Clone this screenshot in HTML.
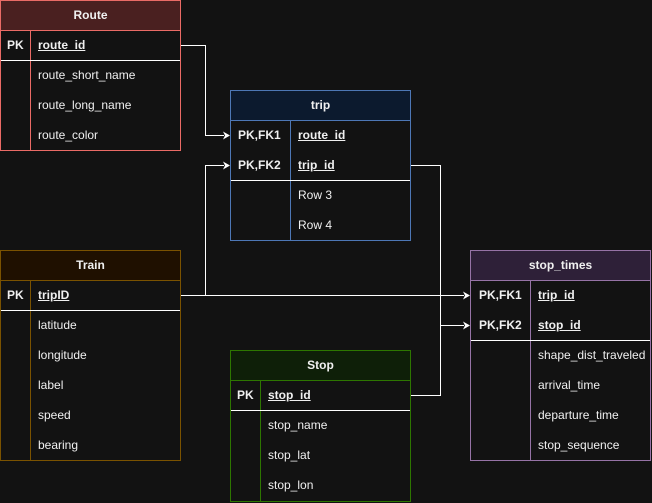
<!DOCTYPE html><html><head><style>
body{margin:0;background:#121212;width:652px;height:503px;overflow:hidden;font-family:"Liberation Sans",sans-serif;color:#f0f0f0;font-size:12px;position:relative}
.t{position:absolute;box-sizing:border-box;border:1px solid}
.h{position:absolute;left:0;right:0;top:0;height:29px;line-height:29px;text-align:center;font-weight:bold;border-bottom:1px solid}
.c{position:absolute;top:29px;bottom:0;border-left:1px solid}
.r{position:absolute;height:30px;line-height:30px;white-space:nowrap}
.k{font-weight:bold}
.u{font-weight:bold;text-decoration:underline}
.d{position:absolute;left:0;right:0;border-top:1px solid #fff}
</style></head><body>
<svg width="652" height="503" style="position:absolute;left:0;top:0">
<g stroke="#fff" fill="none" stroke-width="1">
<path d="M180.5 45.5H205.5V135.5H224"/>
<path d="M180 295.5H464"/>
<path d="M205.5 295.5V165.5H224"/>
<path d="M410 165.5H440.5V395.5H410"/>
<path d="M440.5 325.5H464"/>
</g>
<g fill="#fff">
<path d="M230 135.5l-7-4 2 4-2 4z"/><path d="M230 165.5l-7-4 2 4-2 4z"/>
<path d="M470 295.5l-7-4 2 4-2 4z"/><path d="M470 325.5l-7-4 2 4-2 4z"/>
</g></svg>

<div class="t" style="left:0;top:0;width:181px;height:151px;border-color:#ea6b66">
<div class="h" style="background:#4a2020;border-color:#ea6b66">Route</div>
<div class="c" style="left:29px;border-color:#ea6b66"></div>
<div class="r k" style="left:6px;top:29px">PK</div><div class="r u" style="left:37px;top:29px">route_id</div>
<div class="d" style="top:59px"></div>
<div class="r" style="left:37px;top:59px">route_short_name</div>
<div class="r" style="left:37px;top:89px">route_long_name</div>
<div class="r" style="left:37px;top:119px">route_color</div>
</div>

<div class="t" style="left:230px;top:90px;width:181px;height:151px;border-color:#4d77b5">
<div class="h" style="background:#0c1a2e;border-color:#4d77b5">trip</div>
<div class="c" style="left:59px;border-color:#4d77b5"></div>
<div class="r k" style="left:7px;top:29px">PK,FK1</div><div class="r u" style="left:67px;top:29px">route_id</div>
<div class="r k" style="left:7px;top:59px">PK,FK2</div><div class="r u" style="left:67px;top:59px">trip_id</div>
<div class="d" style="top:89px"></div>
<div class="r" style="left:67px;top:89px">Row 3</div>
<div class="r" style="left:67px;top:119px">Row 4</div>
</div>

<div class="t" style="left:0;top:250px;width:181px;height:211px;border-color:#7a5200">
<div class="h" style="background:#1f1000;border-color:#7a5200">Train</div>
<div class="c" style="left:29px;border-color:#7a5200"></div>
<div class="r k" style="left:6px;top:29px">PK</div><div class="r u" style="left:37px;top:29px">tripID</div>
<div class="d" style="top:59px"></div>
<div class="r" style="left:37px;top:59px">latitude</div>
<div class="r" style="left:37px;top:89px">longitude</div>
<div class="r" style="left:37px;top:119px">label</div>
<div class="r" style="left:37px;top:149px">speed</div>
<div class="r" style="left:37px;top:179px">bearing</div>
</div>

<div class="t" style="left:230px;top:350px;width:181px;height:152px;border-color:#2d7600">
<div class="h" style="background:#0e1f08;border-color:#2d7600">Stop</div>
<div class="c" style="left:29px;border-color:#2d7600"></div>
<div class="r k" style="left:6px;top:29px">PK</div><div class="r u" style="left:37px;top:29px">stop_id</div>
<div class="d" style="top:59px"></div>
<div class="r" style="left:37px;top:59px">stop_name</div>
<div class="r" style="left:37px;top:89px">stop_lat</div>
<div class="r" style="left:37px;top:119px">stop_lon</div>
</div>

<div class="t" style="left:470px;top:250px;width:181px;height:211px;border-color:#9673a6">
<div class="h" style="background:#2e2038;border-color:#9673a6">stop_times</div>
<div class="c" style="left:59px;border-color:#9673a6"></div>
<div class="r k" style="left:8px;top:29px">PK,FK1</div><div class="r u" style="left:67px;top:29px">trip_id</div>
<div class="r k" style="left:8px;top:59px">PK,FK2</div><div class="r u" style="left:67px;top:59px">stop_id</div>
<div class="d" style="top:89px"></div>
<div class="r" style="left:67px;top:89px">shape_dist_traveled</div>
<div class="r" style="left:67px;top:119px">arrival_time</div>
<div class="r" style="left:67px;top:149px">departure_time</div>
<div class="r" style="left:67px;top:179px">stop_sequence</div>
</div>
</body></html>
